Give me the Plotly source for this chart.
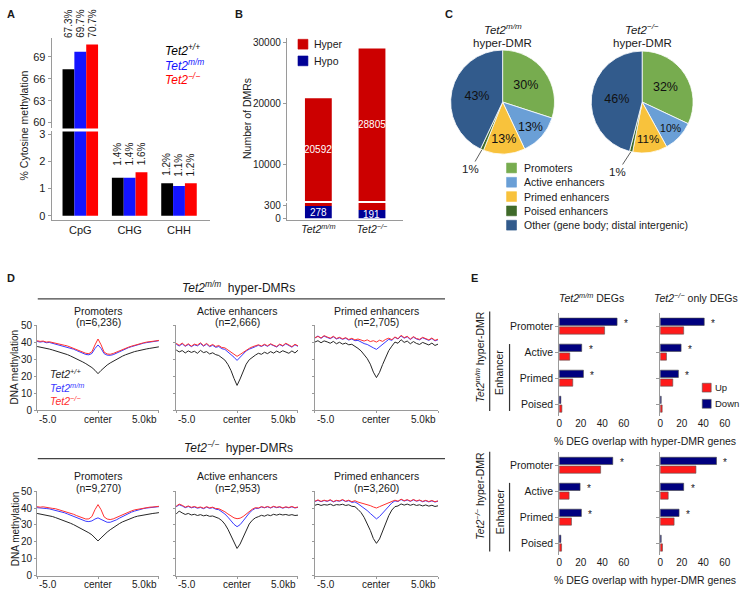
import plotly.graph_objects as go

W, H = 740, 595
FONT = "Liberation Sans, Arial, Helvetica, sans-serif"
TXT = "#1a1a1a"
AXC = "#9a9a9a"


def fx(x):
    return x / W


def fy(y):
    return 1 - y / H


def dx(a, b):
    return [fx(a), fx(b)]


def dy(top, bottom):
    return [fy(bottom), fy(top)]


# ------------------------------------------------------------------ data
# Panel A
a_contexts = ["CpG", "CHG", "CHH"]
a_wt = [67.3, 1.4, 1.2]
a_mm = [69.7, 1.4, 1.1]
a_ko = [70.7, 1.6, 1.2]
a_upper_ticks = [60, 63, 66, 69]
a_lower_ticks = [0, 1, 2, 3]

# Panel B
b_groups = ["Tet2m/m", "Tet2-/-"]
b_group_text = ["<i>Tet2<sup>m/m</sup></i>", "<i>Tet2<sup>\u2212/\u2212</sup></i>"]
b_hyper = [20592, 28805]
b_hypo = [278, 191]
b_upper_ticks = [10000, 20000, 30000]
b_lower_ticks = [0, 300]

# Panel C
c_labels = ["Promoters", "Active enhancers", "Primed enhancers",
            "Poised enhancers", "Other (gene body; distal intergenic)"]
c_mm = [30, 13, 13, 1, 43]
c_ko = [32, 10, 11, 1, 46]
c_colors = ["#77ac4f", "#6a9fd6", "#f8c23c", "#3f6a2a", "#325b8c"]

# Panel D  (bins, kb from DMR centre)
d_x = [-5.0, -4.75, -4.5, -4.25, -4.0, -3.75, -3.5, -3.25, -3.0, -2.75,
       -2.5, -2.25, -2.0, -1.75, -1.5, -1.25, -1.0, -0.75, -0.5, -0.25,
       0.0, 0.25, 0.5, 0.75, 1.0, 1.25, 1.5, 1.75, 2.0, 2.25,
       2.5, 2.75, 3.0, 3.25, 3.5, 3.75, 4.0, 4.25, 4.5, 4.75, 5.0]
d_xtick_text = ["-5.0", "center", "5.0kb"]
d_yticks = [0, 10, 20, 30, 40, 50]

# Tet2 m/m hyper-DMRs : promoters
d_mm_prom_wt = [37.6, 37.3, 36.9, 36.6, 36.1, 35.6, 35.1, 34.5, 34.0, 33.4,
                32.8, 32.0, 31.2, 30.3, 29.4, 28.5, 27.5, 26.4, 25.2, 23.6,
                21.6, 23.5, 25.3, 26.7, 27.9, 29.0, 30.1, 31.0, 31.9, 32.7,
                33.4, 34.0, 34.6, 35.0, 35.5, 35.9, 36.2, 36.5, 36.9, 37.1, 37.4]
d_mm_prom_mm = [40.6, 40.2, 40.5, 39.8, 40.0, 39.5, 39.3, 38.8, 38.4, 37.9,
                37.4, 36.7, 36.0, 35.2, 34.3, 33.5, 32.9, 32.7, 33.5, 36.4,
                38.5, 36.5, 33.4, 32.5, 32.4, 32.8, 33.7, 34.5, 35.3, 36.1,
                36.9, 37.5, 38.1, 38.7, 39.1, 39.6, 39.9, 40.1, 40.5, 40.7, 41.0]
d_mm_prom_ko = [41.0, 40.6, 40.8, 40.2, 40.4, 39.9, 39.6, 39.2, 38.8, 38.3,
                37.9, 37.2, 36.6, 35.9, 35.0, 34.2, 33.6, 33.4, 34.5, 38.5,
                42.0, 38.6, 34.3, 33.2, 33.0, 33.5, 34.3, 35.0, 35.8, 36.5,
                37.2, 37.8, 38.4, 38.9, 39.4, 39.8, 40.2, 40.3, 40.7, 40.9, 41.2]
# Tet2 m/m hyper-DMRs : active enhancers
d_mm_act_wt = [35.6, 34.4, 35.2, 33.8, 35.0, 34.1, 34.8, 33.6, 35.3, 34.0,
               34.6, 33.2, 33.9, 32.8, 32.3, 31.0, 29.6, 27.0, 23.5, 18.8,
               14.7, 18.5, 23.2, 27.2, 29.8, 31.4, 32.5, 33.6, 33.0, 34.2,
               33.4, 34.6, 33.7, 34.9, 34.0, 35.1, 34.3, 33.6, 35.0, 33.8, 35.4]
d_mm_act_mm = [39.0, 37.9, 39.2, 37.7, 38.8, 37.5, 38.6, 38.0, 39.3, 37.8,
               39.0, 37.5, 38.3, 37.1, 37.6, 36.3, 35.9, 34.5, 33.0, 31.3,
               29.4, 31.2, 33.3, 35.0, 36.0, 37.0, 37.5, 38.3, 37.6, 38.6,
               37.7, 38.9, 38.0, 37.3, 38.7, 37.8, 39.2, 38.1, 37.2, 38.6, 37.7]
d_mm_act_ko = [39.5, 38.3, 39.6, 38.0, 39.2, 37.8, 39.0, 38.4, 39.8, 38.1,
               39.4, 37.9, 38.8, 37.6, 38.2, 37.0, 36.8, 35.5, 34.3, 33.0,
               31.8, 32.9, 34.2, 35.6, 36.5, 37.4, 37.8, 38.6, 37.9, 38.9,
               38.0, 39.2, 38.3, 37.6, 39.0, 38.1, 39.5, 38.4, 37.5, 38.9, 38.0]
# Tet2 m/m hyper-DMRs : primed enhancers
d_mm_pri_wt = [40.2, 41.0, 39.8, 40.9, 40.3, 39.5, 40.6, 39.2, 40.1, 39.0,
               39.6, 38.6, 38.9, 37.8, 36.5, 35.0, 33.0, 30.5, 27.2, 22.5,
               19.3, 22.4, 27.0, 31.5, 35.2, 37.8, 40.2, 39.5, 41.6, 40.0,
               40.8, 39.2, 40.5, 39.4, 38.8, 40.0, 39.1, 38.5, 39.6, 38.2, 39.0]
d_mm_pri_mm = [42.5, 43.8, 42.4, 43.7, 42.9, 42.2, 43.3, 42.0, 42.7, 41.8,
               42.5, 41.4, 42.0, 41.0, 41.2, 40.0, 39.3, 38.8, 37.6, 36.8,
               35.9, 37.4, 38.7, 40.2, 41.8, 41.2, 43.0, 42.0, 43.8, 42.5,
               43.3, 41.7, 43.1, 42.0, 41.5, 42.7, 41.9, 41.2, 42.3, 40.9, 41.6]
d_mm_pri_ko = [42.8, 43.5, 42.6, 44.0, 43.2, 42.5, 43.6, 42.3, 43.0, 42.1,
               42.8, 41.7, 42.4, 41.5, 42.0, 41.2, 40.8, 41.5, 40.5, 41.0,
               40.2, 41.3, 40.6, 41.8, 42.5, 41.6, 43.2, 42.2, 44.2, 42.8,
               43.6, 42.0, 43.4, 42.3, 41.8, 43.0, 42.2, 41.5, 42.6, 41.2, 41.9]
# Tet2 -/- hyper-DMRs : promoters
d_ko_prom_wt = [36.8, 36.5, 36.3, 35.9, 35.5, 35.0, 34.4, 33.8, 33.2, 32.5,
                31.8, 31.0, 30.2, 29.3, 28.4, 27.5, 26.5, 25.4, 24.2, 22.5,
                20.6, 22.4, 24.3, 25.8, 27.2, 28.5, 29.7, 30.8, 31.8, 32.6,
                33.4, 34.1, 34.7, 35.2, 35.6, 36.0, 36.3, 36.6, 36.8, 37.0, 37.3]
d_ko_prom_mm = [40.2, 39.9, 40.0, 39.7, 39.5, 39.1, 38.8, 38.3, 37.8, 37.2,
                36.5, 35.8, 35.0, 34.2, 33.4, 32.7, 32.2, 32.0, 32.4, 33.5,
                34.2, 33.3, 32.2, 31.6, 31.6, 32.1, 33.0, 34.0, 35.0, 35.9,
                36.8, 37.6, 38.2, 38.8, 39.3, 39.7, 40.0, 40.2, 40.4, 40.6, 40.8]
d_ko_prom_ko = [40.8, 40.5, 40.7, 40.3, 40.2, 39.8, 39.6, 39.1, 38.7, 38.2,
                37.6, 37.0, 36.3, 35.5, 34.7, 34.0, 33.5, 33.6, 35.0, 39.0,
                42.0, 39.0, 34.8, 33.5, 33.2, 33.6, 34.4, 35.3, 36.2, 37.0,
                37.7, 38.3, 38.9, 39.3, 39.7, 40.0, 40.3, 40.5, 40.6, 40.9, 41.0]
# Tet2 -/- hyper-DMRs : active enhancers
d_ko_act_wt = [36.4, 38.2, 37.1, 36.2, 36.8, 35.9, 36.3, 35.6, 36.1, 35.4,
               35.8, 35.1, 35.3, 34.5, 33.9, 32.6, 30.5, 27.5, 23.6, 19.2,
               16.2, 18.8, 23.0, 27.3, 30.6, 32.8, 34.2, 34.9, 35.7, 35.2,
               36.0, 35.5, 36.3, 35.8, 36.4, 35.9, 36.2, 35.7, 36.1, 35.6, 35.8]
d_ko_act_mm = [40.7, 41.9, 41.2, 40.2, 40.9, 40.1, 40.6, 39.9, 40.3, 39.6,
               40.5, 39.8, 40.2, 39.3, 39.0, 37.9, 36.5, 34.6, 32.5, 30.4,
               29.0, 30.2, 32.4, 34.8, 37.0, 38.7, 39.8, 39.8, 40.6, 40.1,
               40.7, 40.0, 40.8, 40.2, 40.6, 39.9, 40.5, 40.1, 40.7, 40.0, 40.4]
d_ko_act_ko = [41.0, 42.3, 41.6, 40.5, 41.2, 40.4, 40.9, 40.2, 40.6, 39.9,
               40.8, 40.1, 40.5, 39.7, 39.6, 38.8, 37.8, 36.5, 35.2, 34.2,
               33.7, 34.0, 35.0, 36.6, 38.1, 39.3, 40.2, 40.0, 40.8, 40.3,
               40.9, 40.2, 41.0, 40.4, 40.8, 40.1, 40.7, 40.3, 40.9, 40.2, 40.6]
# Tet2 -/- hyper-DMRs : primed enhancers
d_ko_pri_wt = [41.6, 42.2, 41.5, 42.0, 41.7, 42.3, 41.4, 42.0, 41.8, 42.2,
               41.5, 41.9, 41.0, 40.8, 39.2, 37.3, 34.5, 31.0, 26.8, 22.0,
               19.2, 21.8, 26.5, 31.2, 35.5, 38.8, 40.8, 41.2, 42.4, 41.7,
               42.3, 41.6, 42.2, 41.5, 41.9, 41.2, 41.8, 41.1, 41.6, 40.9, 41.3]
d_ko_pri_mm = [43.8, 44.5, 43.7, 44.4, 43.9, 44.6, 43.6, 44.3, 44.0, 44.7,
               43.8, 44.3, 43.3, 43.6, 42.5, 41.3, 40.0, 38.5, 36.8, 34.9,
               33.6, 35.0, 37.0, 39.2, 41.4, 43.0, 44.2, 43.8, 45.0, 44.1,
               44.7, 43.9, 44.8, 44.0, 44.5, 43.7, 44.3, 43.6, 44.2, 43.5, 44.0]
d_ko_pri_ko = [44.0, 44.8, 43.9, 44.6, 44.1, 44.9, 43.8, 44.5, 44.2, 45.0,
               44.0, 44.6, 43.7, 44.3, 43.5, 43.0, 42.6, 42.0, 41.4, 40.6,
               40.0, 40.8, 41.6, 42.5, 43.3, 44.0, 44.6, 44.0, 45.2, 44.3,
               44.9, 44.1, 45.0, 44.2, 44.7, 43.9, 44.5, 43.8, 44.4, 43.7, 44.2]

d_panels_top = [("Promoters", "6,236", d_mm_prom_wt, d_mm_prom_mm, d_mm_prom_ko),
                ("Active enhancers", "2,666", d_mm_act_wt, d_mm_act_mm, d_mm_act_ko),
                ("Primed enhancers", "2,705", d_mm_pri_wt, d_mm_pri_mm, d_mm_pri_ko)]
d_panels_bot = [("Promoters", "9,270", d_ko_prom_wt, d_ko_prom_mm, d_ko_prom_ko),
                ("Active enhancers", "2,953", d_ko_act_wt, d_ko_act_mm, d_ko_act_ko),
                ("Primed enhancers", "3,260", d_ko_pri_wt, d_ko_pri_mm, d_ko_pri_ko)]

# Panel E  (% DEG overlap with hyper-DMR genes)
e_cats = ["Promoter", "Active", "Primed", "Poised"]
e_top_mm_down = [53.8, 20.9, 22.5, 1.5]
e_top_mm_up = [42.2, 9.8, 12.6, 2.5]
e_top_ko_down = [40.9, 19.4, 16.9, 0.9]
e_top_ko_up = [21.8, 5.8, 11.7, 1.8]
e_bot_mm_down = [49.8, 19.4, 20.6, 1.5]
e_bot_mm_up = [38.5, 9.2, 11.4, 2.2]
e_bot_ko_down = [52.3, 21.8, 17.5, 0.9]
e_bot_ko_up = [33.2, 7.4, 12.9, 2.1]
e_significant = [True, True, True, False]
e_xticks = [0, 20, 40, 60]

# ------------------------------------------------------------------ figure
fig = go.Figure()
layout = dict(
    width=W, height=H, margin=dict(l=0, r=0, t=0, b=0),
    paper_bgcolor="white", plot_bgcolor="white",
    font=dict(family=FONT, size=10, color=TXT),
    showlegend=False, hovermode=False, barmode="group",
)
ann = []
shp = []


def text(x, y, t, size=10, color=TXT, xanchor="center", yanchor="middle", angle=0, **kw):
    d = dict(x=fx(x), y=fy(y), xref="paper", yref="paper", text=t, showarrow=False,
             font=dict(size=size, color=color, family=FONT),
             xanchor=xanchor, yanchor=yanchor, textangle=angle)
    d.update(kw)
    ann.append(d)


def hline(x0, x1, y, color="#333333", width=1.2):
    shp.append(dict(type="line", xref="paper", yref="paper", x0=fx(x0), x1=fx(x1),
                    y0=fy(y), y1=fy(y), line=dict(color=color, width=width)))


def vline(x, y0, y1, color="#333333", width=1.2):
    shp.append(dict(type="line", xref="paper", yref="paper", x0=fx(x), x1=fx(x),
                    y0=fy(y0), y1=fy(y1), line=dict(color=color, width=width)))


def square(x0, y0, size, color, line="#555555"):
    shp.append(dict(type="rect", xref="paper", yref="paper", x0=fx(x0), x1=fx(x0 + size),
                    y0=fy(y0 + size), y1=fy(y0), fillcolor=color,
                    line=dict(color=line, width=0.6)))


def base_axis(**kw):
    d = dict(showgrid=False, zeroline=False, showline=True, linecolor=AXC, linewidth=1,
             ticks="outside", ticklen=3, tickcolor=AXC, tickwidth=1,
             tickfont=dict(size=10, color=TXT, family=FONT), fixedrange=True)
    d.update(kw)
    return d


# ---------------- Panel A
text(2, 8, "<b>A</b>", size=11, xanchor="left")
a_series = [(a_wt, "#000000"), (a_mm, "#1414ff"), (a_ko, "#ff0000")]
a_offsets = [-0.36, -0.12, 0.12]
a_width = 0.24
a_lower_top = 3.11
for (vals, col), off in zip(a_series, a_offsets):
    for yax in ("y", "y2"):
        fig.add_trace(go.Bar(x=a_contexts, y=vals, xaxis="x", yaxis=yax, width=a_width,
                             offset=off, marker=dict(color=col, line=dict(width=0)),
                             hoverinfo="skip"))
for i, ctx in enumerate(a_contexts):
    gmax = max(a_wt[i], a_mm[i], a_ko[i])
    for (vals, col), off in zip(a_series, a_offsets):
        ann.append(dict(x=i + off + a_width / 2, y=gmax, xref="x",
                        yref="y" if gmax > a_lower_top else "y2",
                        text=f"{vals[i]:.1f}%", showarrow=False, textangle=-90,
                        xanchor="center", yanchor="bottom", yshift=5,
                        font=dict(size=10, color=TXT, family=FONT)))
layout["xaxis"] = base_axis(domain=dx(49, 208), range=[-0.58, 2.62], anchor="y2",
                            type="category", ticks="", tickfont=dict(size=11))
layout["yaxis"] = base_axis(domain=dy(33, 125), range=[59.19, 71.55], anchor="x",
                            tickvals=a_upper_ticks, tickfont=dict(size=11))
layout["yaxis2"] = base_axis(domain=dy(128, 218), range=[-0.145, a_lower_top], anchor="x",
                             tickvals=a_lower_ticks, tickfont=dict(size=11))
text(21, 122, "% Cytosine methylation", size=10.5, angle=-90)
text(161, 45, "<i>Tet2<sup>+/+</sup></i>", size=12, color="#000000", xanchor="left")
text(161, 60, "<i>Tet2<sup>m/m</sup></i>", size=12, color="#1414ff", xanchor="left")
text(161, 74, "<i>Tet2<sup>\u2212/\u2212</sup></i>", size=12, color="#ff0000", xanchor="left")

# ---------------- Panel B
text(232, 8, "<b>B</b>", size=11, xanchor="left")
b_upper_lo = 4080
for yax in ("y3", "y4"):
    fig.add_trace(go.Bar(x=b_groups, y=b_hypo, xaxis="x2", yaxis=yax, width=0.5, offset=-0.25,
                         offsetgroup="b", marker=dict(color="#000096", line=dict(width=0)),
                         hoverinfo="skip"))
    fig.add_trace(go.Bar(x=b_groups, y=b_hyper, base=b_hypo, xaxis="x2", yaxis=yax, width=0.5,
                         offset=-0.25, offsetgroup="b",
                         marker=dict(color="#cc0000", line=dict(width=0)), hoverinfo="skip"))
for i, g in enumerate(b_groups):
    ann.append(dict(x=g, y=(b_upper_lo + b_hypo[i] + b_hyper[i]) / 2, xref="x2", yref="y3",
                    text=str(b_hyper[i]), showarrow=False,
                    font=dict(size=10, color="white", family=FONT)))
    ann.append(dict(x=g, y=b_hypo[i] / 2, xref="x2", yref="y4", text=str(b_hypo[i]),
                    showarrow=False, font=dict(size=10, color="white", family=FONT)))
layout["xaxis2"] = base_axis(domain=dx(285.7, 403), range=[-0.589, 1.583], anchor="y4",
                             type="category", ticks="", tickvals=b_groups, ticktext=b_group_text,
                             tickfont=dict(size=10.5))
layout["yaxis3"] = base_axis(domain=dy(33, 199), range=[b_upper_lo, 30640], anchor="x2",
                             tickvals=b_upper_ticks, tickformat="d")
layout["yaxis4"] = base_axis(domain=dy(201, 218), range=[-30, 350], anchor="x2",
                             tickvals=b_lower_ticks, tickformat="d")
text(245, 115, "Number of DMRs", size=10.5, angle=-90)
square(297, 34, 10, "#cc0000", line="#cc0000")
square(297, 51, 10, "#000096", line="#000096")
text(311, 39, "Hyper", size=10.5, xanchor="left")
text(311, 56, "Hypo", size=10.5, xanchor="left")

# ---------------- Panel C
text(443, 8, "<b>C</b>", size=11, xanchor="left")
c_pies = [(c_mm, 503, 98, 53, "<i>Tet2<sup>m/m</sup></i>"),
          (c_ko, 643.5, 98, 52, "<i>Tet2<sup>\u2212/\u2212</sup></i>")]
for vals, cx, cy, r, title in c_pies:
    fig.add_trace(go.Pie(values=vals, labels=c_labels, sort=False, direction="clockwise",
                         rotation=0, domain=dict(x=dx(cx - r, cx + r), y=dy(cy - r, cy + r)),
                         marker=dict(colors=c_colors, line=dict(color="white", width=0.8)),
                         texttemplate="%{value}%",
                         textposition=["inside" if v > 2 else "none" for v in vals],
                         insidetextorientation="horizontal",
                         textfont=dict(size=12.5, color="#111111", family=FONT),
                         hoverinfo="skip", showlegend=False))
    text(cx, 23, title, size=11.5)
    text(cx, 37.5, "hyper-DMR", size=11.5)
ann.append(dict(x=fx(482), y=fy(147), xref="paper", yref="paper", text="1%", showarrow=True,
                arrowhead=0, arrowwidth=0.8, arrowcolor="#333333", ax=-11, ay=19,
                font=dict(size=11.5, color=TXT, family=FONT)))
ann.append(dict(x=fx(632), y=fy(149), xref="paper", yref="paper", text="1%", showarrow=True,
                arrowhead=0, arrowwidth=0.8, arrowcolor="#333333", ax=-13, ay=20,
                font=dict(size=11.5, color=TXT, family=FONT)))
for k, (lab, col) in enumerate(zip(c_labels, c_colors)):
    yc = 165.3 + k * 14.6
    square(507, yc - 5, 10, col, line=col)
    text(523, yc, lab, size=10.5, xanchor="left")

# ---------------- Panel D
text(2, 278, "<b>D</b>", size=11, xanchor="left")
text(469, 278, "<b>E</b>", size=11, xanchor="left")
d_xdoms = [(34.3, 157), (174.3, 297), (314, 438)]
d_rows = [(d_panels_top, 326, 412.7, "<i>Tet2<sup>m/m</sup></i>  hyper-DMRs", 287, 299, 369),
          (d_panels_bot, 495, 581.7, "<i>Tet2<sup>\u2212/\u2212</sup></i>  hyper-DMRs", 450, 462, 534)]
d_colors = ["#262626", "#3a3aff", "#ff3030"]
ax_i = 3
for panels, ytop, ybot, title, ty, ly, ytitle in d_rows:
    text(237, ty, title, size=12)
    hline(35, 445, ly, color="#444444", width=1.3)
    text(12, ytitle, "DNA methylation", size=10, angle=-90)
    for c, ((name, n, wt, mm, ko), (x0, x1)) in enumerate(zip(panels, d_xdoms)):
        xa, ya = f"x{ax_i}", f"y{ax_i + 2}"
        for vals, col in zip((wt, mm, ko), d_colors):
            fig.add_trace(go.Scatter(x=d_x, y=vals, xaxis=xa, yaxis=ya, mode="lines",
                                     line=dict(color=col, width=1), hoverinfo="skip"))
        layout[f"xaxis{ax_i}"] = base_axis(domain=dx(x0, x1), range=[d_x[0], d_x[-1]],
                                           anchor=ya, tickvals=[d_x[0], 0, d_x[-1]],
                                           showticklabels=False, ticklen=2)
        layout[f"yaxis{ax_i + 2}"] = base_axis(domain=dy(ytop, ybot), range=[0, 50], anchor=xa,
                                               tickvals=d_yticks, showticklabels=(c == 0),
                                               ticklen=2)
        cxm = (x0 + x1) / 2
        text(cxm, ytop - 15, name, size=10.5)
        text(cxm, ytop - 3.5, f"(n={n})", size=10.5)
        for xv, lab, anc in zip([d_x[0], 0, d_x[-1]], d_xtick_text, ["left", "center", "right"]):
            ann.append(dict(x=xv, y=fy(ybot + 1.5), xref=xa, yref="paper", text=lab,
                            showarrow=False, xanchor=anc, yanchor="top",
                            font=dict(size=10, color=TXT, family=FONT)))
        ax_i += 1
text(45, 375.5, "<i>Tet2<sup>+/+</sup></i>", size=10.5, color="#262626", xanchor="left")
text(45, 389, "<i>Tet2<sup>m/m</sup></i>", size=10.5, color="#3a3aff", xanchor="left")
text(45, 402.5, "<i>Tet2<sup>\u2212/\u2212</sup></i>", size=10.5, color="#ff3030", xanchor="left")

# ---------------- Panel E
e_down_col, e_up_col = "#00007f", "#ff1a1a"
e_w, e_gap = 0.28, 0.028
e_xdoms = [(560, 629.3), (661.7, 731)]
e_rows = [((e_top_mm_down, e_top_mm_up), (e_top_ko_down, e_top_ko_up), 313, 418, 326.7, 26.57),
          ((e_bot_mm_down, e_bot_mm_up), (e_bot_ko_down, e_bot_ko_up), 455, 560, 468.7, 26.5)]
ax_e = 9
for left, right, ytop, ybot, c0, step in e_rows:
    for c, ((down, up), (x0, x1)) in enumerate(zip((left, right), e_xdoms)):
        xa, ya = f"x{ax_e}", f"y{ax_e + 2}"
        fig.add_trace(go.Bar(y=e_cats, x=down, orientation="h", xaxis=xa, yaxis=ya,
                             width=e_w, offset=-(e_w + e_gap),
                             marker=dict(color=e_down_col, line=dict(color="#444444", width=0.6)),
                             hoverinfo="skip"))
        fig.add_trace(go.Bar(y=e_cats, x=up, orientation="h", xaxis=xa, yaxis=ya,
                             width=e_w, offset=e_gap,
                             marker=dict(color=e_up_col, line=dict(color="#555555", width=0.6)),
                             hoverinfo="skip"))
        for i, sig in enumerate(e_significant):
            if sig:
                ann.append(dict(x=down[i], y=i - (e_w + e_gap) + e_w / 2, xref=xa, yref=ya,
                                text="*", showarrow=False, xanchor="left", yanchor="middle",
                                xshift=5, yshift=-2, font=dict(size=10, color=TXT, family=FONT)))
        layout[f"xaxis{ax_e}"] = base_axis(domain=dx(x0, x1), range=[0, 64], anchor=ya,
                                           tickvals=e_xticks, showline=False, ticks="")
        layout[f"yaxis{ax_e + 2}"] = base_axis(domain=dy(ytop, ybot),
                                               range=[(ybot - c0) / step, (ytop - c0) / step],
                                               anchor=xa, type="category",
                                               showticklabels=(c == 0),
                                               tickfont=dict(size=10.5))
        ax_e += 1
    text(646, ybot + 26, "% DEG overlap with hyper-DMR genes", size=10.5)

text(593, 297, "<i>Tet2<sup>m/m</sup></i> DEGs", size=10.5)
text(698, 297, "<i>Tet2<sup>\u2212/\u2212</sup></i> only DEGs", size=10.5)
square(704, 385, 9, e_up_col)
square(704, 401.5, 9, e_down_col)
text(715, 389.5, "Up", size=9.5, xanchor="left")
text(715, 406, "Down", size=9.5, xanchor="left")

# side brackets of E
text(480, 358, "<i>Tet2<sup>m/m</sup></i> hyper-DMR", size=10.5, angle=-90)
vline(490, 311.7, 413.3)
text(500, 374, "Enhancer", size=10.5, angle=-90)
vline(510, 345, 413.3)
text(480, 500, "<i>Tet2<sup>\u2212/\u2212</sup></i> hyper-DMR", size=10.5, angle=-90)
vline(490, 455, 556.7)
text(500, 516, "Enhancer", size=10.5, angle=-90)
vline(510, 486.7, 556.7)

layout["annotations"] = ann
layout["shapes"] = shp
fig.update_layout(**layout)
fig.write_html("out.html", config={"displayModeBar": False, "staticPlot": True},
               post_script="document.body.style.margin='0';document.body.style.padding='0';")
